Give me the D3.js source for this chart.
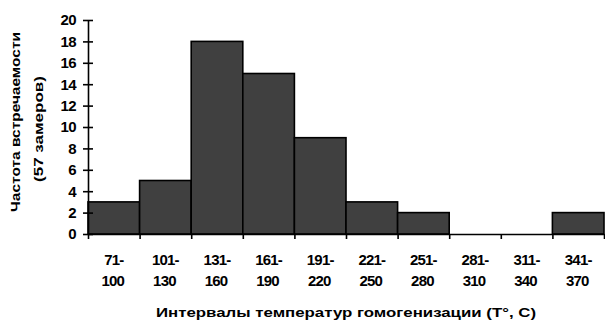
<!DOCTYPE html>
<html>
<head>
<meta charset="utf-8">
<script src="https://cdn.jsdelivr.net/npm/d3@7"></script>
<style>
  html, body { margin: 0; padding: 0; background: #fff; }
  svg { display: block; }
  text { font-family: "Liberation Sans", Arial, sans-serif; fill: #000; }
</style>
</head>
<body>
<svg id="chart" width="605" height="320"></svg>
<script>
// Homogenization temperature intervals (two-line labels) and counts
const intervalStarts = ["71-", "101-", "131-", "161-", "191-", "221-", "251-", "281-", "311-", "341-"];
const intervalEnds   = ["100", "130", "160", "190", "220", "250", "280", "310", "340", "370"];
const counts         = [3, 5, 18, 15, 9, 3, 2, 0, 0, 2];
const yTicks         = [0, 2, 4, 6, 8, 10, 12, 14, 16, 18, 20];

const svg = d3.select("#chart");
const plotLeft = 88, plotRight = 604, plotTop = 20, plotBottom = 234;

const cats = d3.range(counts.length);
const x = d3.scaleBand().domain(cats).range([plotLeft, plotRight]).padding(0);
const edges = d3.scaleLinear().domain([0, counts.length]).range([plotLeft, plotRight]);
const y = d3.scaleLinear().domain([0, 20]).range([plotBottom, plotTop]);

// Bars
svg.append("g").selectAll("rect")
  .data(counts)
  .join("rect")
  .attr("x", (d, i) => x(i))
  .attr("y", d => y(d))
  .attr("width", x.bandwidth())
  .attr("height", d => y(0) - y(d))
  .attr("fill", "#404040")
  .attr("stroke", "#000")
  .attr("stroke-width", 1.6);

// Y axis with ticks crossing the axis line
const yAxis = svg.append("g")
  .attr("transform", `translate(${plotLeft},0)`)
  .call(d3.axisLeft(y).tickValues(yTicks).tickSize(5).tickPadding(5).tickSizeOuter(0));
yAxis.select(".domain").attr("stroke", "#000").attr("stroke-width", 1.6);
yAxis.selectAll(".tick line").attr("x2", 5).attr("x1", -5).attr("stroke-width", 1.6);
yAxis.selectAll(".tick text")
  .attr("font-size", 15)
  .attr("font-weight", "bold")
  .attr("font-family", "'Liberation Sans', Arial, sans-serif")
  .attr("letter-spacing", -0.6)
  .attr("x", -12);

// X axis boundary ticks
const xEdge = svg.append("g")
  .attr("transform", `translate(0,${plotBottom})`)
  .call(d3.axisBottom(edges).tickValues(d3.range(counts.length + 1)).tickFormat("").tickSize(5).tickSizeOuter(0));
xEdge.select(".domain").attr("stroke", "#000").attr("stroke-width", 1.6);
xEdge.selectAll(".tick line").attr("stroke-width", 1.6);

// X axis category labels (two lines)
const xLab = svg.append("g")
  .attr("transform", `translate(0,${plotBottom})`)
  .call(d3.axisBottom(x).tickSize(0).tickFormat(""));
xLab.select(".domain").remove();
xLab.selectAll(".tick").each(function(d) {
  const t = d3.select(this).append("text")
    .attr("text-anchor", "middle")
    .attr("font-size", 15)
    .attr("font-weight", "bold")
    .attr("font-family", "'Liberation Sans', Arial, sans-serif")
    .attr("letter-spacing", -0.8);
  t.append("tspan").attr("x", 0).attr("y", 31).text(intervalStarts[d]);
  t.append("tspan").attr("x", -1).attr("y", 52).text(intervalEnds[d]);
});

// Axis titles
svg.append("text")
  .attr("x", 346).attr("y", 317)
  .attr("text-anchor", "middle")
  .attr("font-size", 12)
  .attr("font-weight", "bold")
  .attr("textLength", 380)
  .attr("lengthAdjust", "spacingAndGlyphs")
  .text("Интервалы температур гомогенизации (T°, C)");

svg.append("text")
  .attr("transform", "translate(20,122) rotate(-90)")
  .attr("text-anchor", "middle")
  .attr("font-size", 12)
  .attr("font-weight", "bold")
  .attr("textLength", 180)
  .attr("lengthAdjust", "spacingAndGlyphs")
  .text("Частота встречаемости");

svg.append("text")
  .attr("transform", "translate(43,129) rotate(-90)")
  .attr("text-anchor", "middle")
  .attr("font-size", 12)
  .attr("font-weight", "bold")
  .attr("textLength", 106)
  .attr("lengthAdjust", "spacingAndGlyphs")
  .text("(57 замеров)");
</script>
</body>
</html>
